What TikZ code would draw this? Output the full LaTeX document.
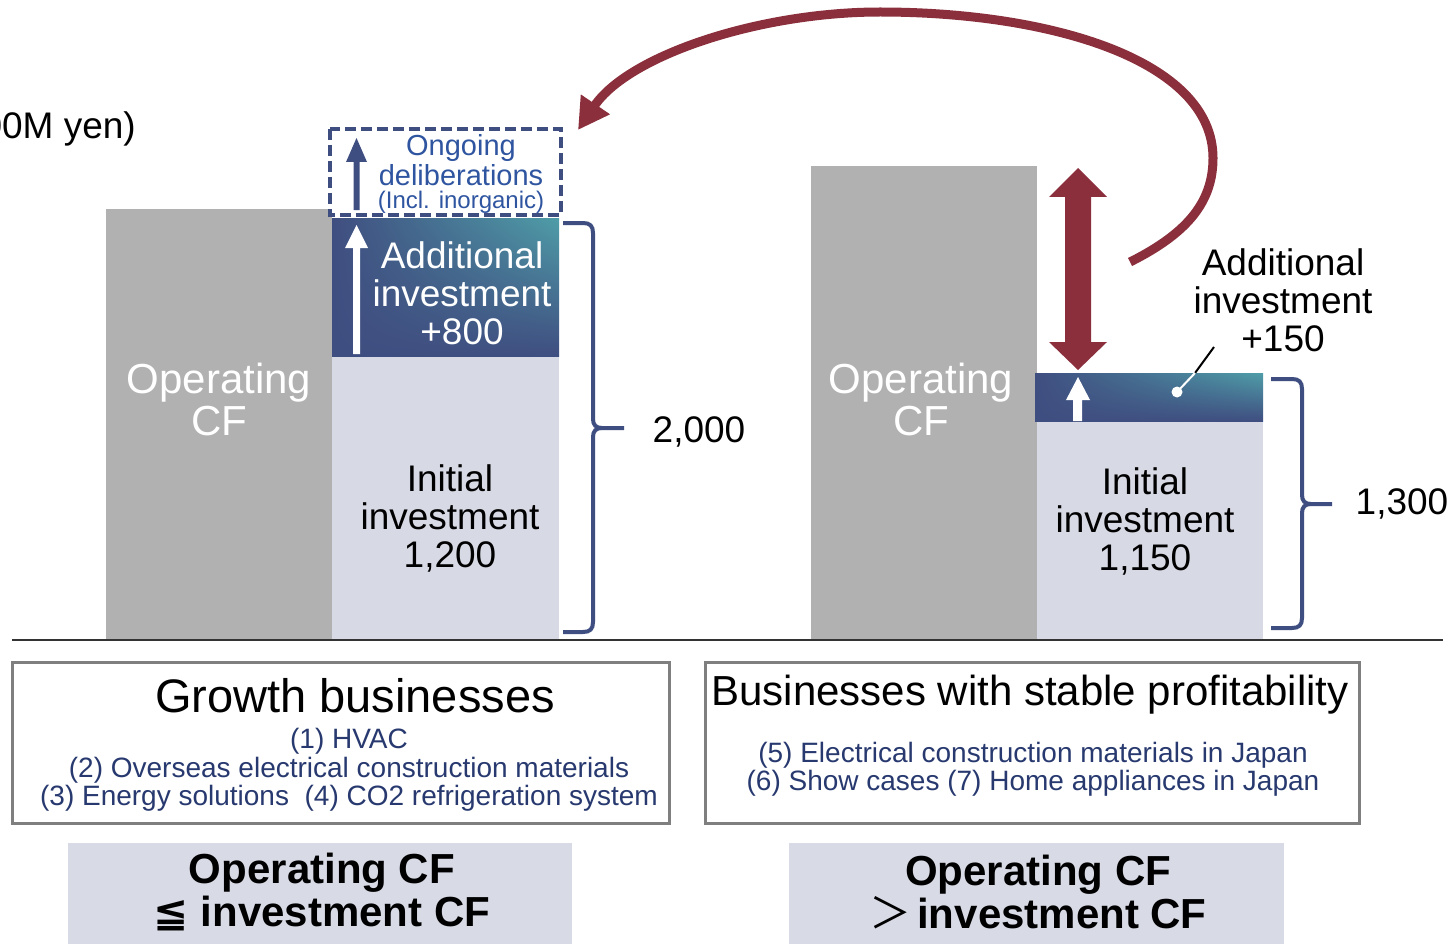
\documentclass[tikz,border=0pt]{standalone}
\usepackage{fontspec}
\setmainfont{Liberation Sans}
\newfontfamily\djv{DejaVu Sans}
\newfontfamily\cjk{Noto Sans CJK JP}
\usetikzlibrary{arrows.meta,shadings}
\definecolor{navy}{HTML}{3F4E80}
\definecolor{tealc}{HTML}{4F9DA8}
\definecolor{lightbar}{HTML}{D7D9E4}
\definecolor{graybar}{HTML}{B1B1B1}
\definecolor{dred}{HTML}{8B2F3C}
\definecolor{txtblue}{HTML}{2F55A0}
\definecolor{itemblue}{HTML}{27396F}
\definecolor{boxgray}{HTML}{7F7F7F}
\definecolor{labelbg}{HTML}{D8DAE6}
\tikzset{
  txt/.style={align=center, inner sep=0pt},
  f37/.style={font=\fontsize{37}{38}\selectfont},
  f42/.style={font=\fontsize{42}{42}\selectfont},
  bracestyle/.style={draw=navy, line width=4pt, line cap=butt},
  grad/.style={upper left=navy, lower left=navy, lower right=navy, upper right=tealc},
  bizbox/.style={draw=boxgray, line width=3pt, fill=white},
  items/.style={txt, text=itemblue, font=\fontsize{28}{28.5}\selectfont},
  cflabel/.style={txt, font=\fontsize{42}{43}\selectfont\bfseries},
}
\begin{document}
\begin{tikzpicture}[x=1pt,y=-1pt]
\useasboundingbox (0,0) rectangle (1450,944);
\clip (0,0) rectangle (1450,944);
\fill[white] (0,0) rectangle (1450,944);

% unit label (cut at the left edge, as in the reference)
\node[anchor=east, f37, inner sep=0pt] (unit) at (136,129) {(100M yen)};

% ---------- left group ----------
\fill[graybar] (106,209) rectangle (332,640);
\node[txt, f42, text=white] (opl) at (219,399) {Operating\\CF};
\fill[lightbar] (332,356) rectangle (559,640);
\shade[grad] (332,218) rectangle (559,356);
\node[txt, f37] (initl) at (450,518) {Initial\\investment\\1,200};
\node[txt, f37, text=white] (addl) at (462,293) {Additional\\investment\\+800};
% white arrow
\fill[white] (356.5,225) -- (368,248) -- (360,248) -- (360,354) -- (353,354) -- (353,248) -- (345,248) -- cycle;
% dashed box
\draw[navy, line width=4pt, dash pattern=on 11pt off 5pt] (330,129) rectangle (561,215);
\fill[navy] (356.5,138) -- (367,162) -- (359.5,162) -- (359.5,210) -- (353.5,210) -- (353.5,162) -- (346,162) -- cycle;
\node[txt, text=txtblue, font=\fontsize{29}{30}\selectfont] (ong) at (461,160) {Ongoing\\deliberations};
\node[txt, text=txtblue, font=\fontsize{24}{25}\selectfont] (incl) at (461,202) {(Incl. inorganic)};
% brace
\draw[bracestyle] (563,223) -- (583,223) .. controls (590,223) and (593,226) .. (593,233) -- (593,419) .. controls (593,425) and (596,428) .. (602,428) -- (624,428);
\draw[bracestyle] (602,428) .. controls (596,428) and (593,431) .. (593,437) -- (593,622) .. controls (593,629) and (590,632) .. (583,632) -- (563,632);
\node[txt, f37] (tot1) at (699,432) {2,000};

% ---------- right group ----------
\fill[graybar] (811,166) rectangle (1037,640);
\node[txt, f42, text=white] (opr) at (921,399) {Operating\\CF};
\fill[lightbar] (1037,421) rectangle (1263,640);
\shade[grad] (1035,373) rectangle (1263,421);
\node[txt, f37] (initr) at (1145,521) {Initial\\investment\\1,150};
\fill[white] (1078,377) -- (1090,400) -- (1082,400) -- (1082,421) -- (1073,421) -- (1073,400) -- (1066,400) -- cycle;
% red double arrow
\fill[dred] (1078,168) -- (1107,197) -- (1091,197) -- (1091,342) -- (1107,342) -- (1078,370) -- (1049,342) -- (1065,342) -- (1065,197) -- (1049,197) -- cycle;
% label + leader
\node[txt, f37] (addr) at (1283,300) {Additional\\investment\\+150};
\coordinate (lead1) at (1214,347);
\coordinate (lead2) at (1195,373);
\coordinate (dot) at (1177,392);
\draw[black, line width=2pt] (lead1) -- (lead2);
\draw[white, line width=2pt] (lead2) -- (dot);
\fill[white] (dot) circle (5.5);
% brace
\draw[bracestyle] (1271,379) -- (1292,379) .. controls (1299,379) and (1302,382) .. (1302,389) -- (1302,495) .. controls (1302,501) and (1305,504) .. (1311,504) -- (1332,504);
\draw[bracestyle] (1311,504) .. controls (1305,504) and (1302,507) .. (1302,513) -- (1302,618) .. controls (1302,625) and (1299,628) .. (1292,628) -- (1271,628);
\node[txt, f37] (tot2) at (1402,504) {1,300};

% curved arrow
\coordinate (cstart) at (1130,262);
\coordinate (ctip) at (578,130);
\draw[dred, line width=9pt, -{Triangle[length=31pt,width=33pt]}] (cstart) .. controls (1190,232) and (1213,200) .. (1213,158) .. controls (1213,60) and (1050,12) .. (880,12) .. controls (760,12) and (629,55) .. (ctip);

% baseline
\draw[black!80, line width=1.8pt] (12,640) -- (1443,640);

% ---------- business boxes ----------
\draw[bizbox] (12,662) rectangle (669,823);
\node[txt, font=\fontsize{47}{48}\selectfont] (gtitle) at (355,696) {Growth businesses};
\node[items] (gitems) at (349,770) {(1) HVAC\\(2) Overseas electrical construction materials\\(3) Energy solutions\ \ (4) CO2 refrigeration system};

\draw[bizbox] (705,662) rectangle (1359,823);
\node[txt, font=\fontsize{42}{43}\selectfont] (stitle) at (1030,695) {Businesses with stable profitability};
\node[items] (sitems) at (1033,769.5) {(5) Electrical construction materials in Japan\\(6) Show cases (7) Home appliances in Japan};

% ---------- CF labels ----------
\fill[labelbg] (68,843) rectangle (572,950);
\node[cflabel] (cfl) at (322,892) {Operating CF\\{\djv\bfseries ≦} investment CF};
\fill[labelbg] (789,843) rectangle (1284,950);
\node[cflabel] (cfr) at (1038,892) {Operating CF\\{\cjk\mdseries ＞}\hspace{6pt}investment CF};
\end{tikzpicture}
\end{document}
